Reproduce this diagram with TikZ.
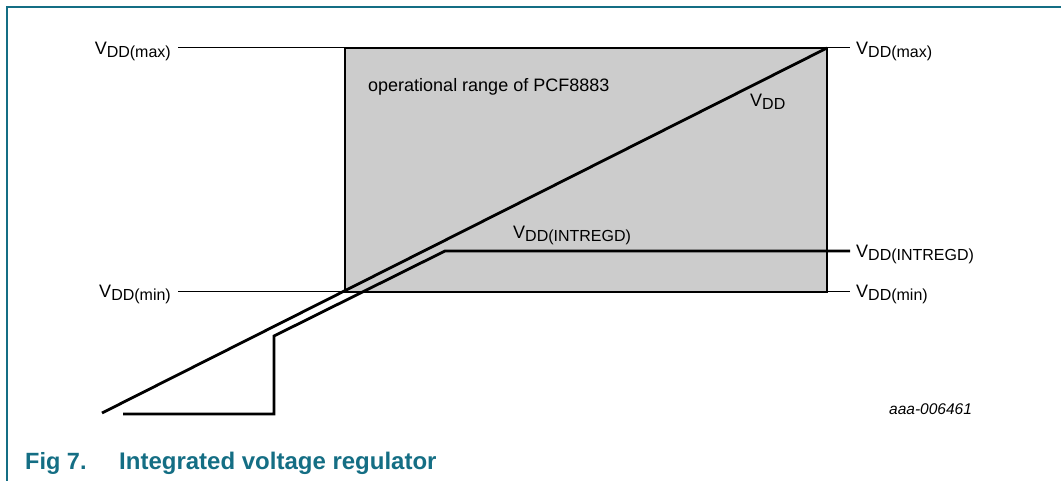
\documentclass[tikz,border=0pt]{standalone}
\usepackage{fontspec}
\setmainfont{Liberation Sans}
\usetikzlibrary{positioning}
\usetikzlibrary{calc}

\definecolor{nxpteal}{RGB}{20,110,132}
\newcommand{\vddlbl}[1]{V\raisebox{-0.3ex}{\fontsize{16}{16}\selectfont DD#1}}

\begin{document}
\begin{tikzpicture}[x=1pt,y=-1pt,
	lbl/.style={inner sep=0pt, font=\fontsize{18}{18}\selectfont},
	thinline/.style={line width=1pt},
	heavy/.style={line width=2.8pt}]
	\useasboundingbox (0,0) rectangle (1061,481);
	\draw[nxpteal, line width=1.3pt] (7,481) -- (7,7) -- (1061,7);
	% operating window
	\coordinate (tl) at (345,48);
	\coordinate (bl) at (345,292);
	\coordinate (tr) at (827,48);
	\coordinate (br) at (827,292);
	\draw[heavy, fill=black!20] (tl) rectangle (br);
	% level labels
	\node[lbl, anchor=base east] (maxL) at (171,55) {\vddlbl{(max)}};
	\node[lbl, anchor=base east] (minL) at (171,298) {\vddlbl{(min)}};
	\node[lbl, anchor=base west] (maxR) at (856,55) {\vddlbl{(max)}};
	\node[lbl, anchor=base west] (intR) at (856,258) {\vddlbl{(INTREGD)}};
	\node[lbl, anchor=base west] (minR) at (856,298) {\vddlbl{(min)}};
	\draw[thinline] (maxL.east |- tl) ++(7,0) -- (tl);
	\draw[thinline] (minL.east |- bl) ++(7,0) -- (bl);
	\draw[thinline] (tr) -- ($(maxR.west |- tr)+(-6,0)$);
	\draw[thinline] (br) -- ($(minR.west |- br)+(-6,0)$);
	% supply ramp
	\coordinate (vddstart) at (102,413);
	\draw[heavy] (vddstart) -- (tr);
	% regulator output
	\coordinate (regstart) at (123,414);
	\coordinate (regstep) at (274,414);
	\coordinate (regjump) at (274,336);
	\coordinate (regknee) at (445,251);
	\draw[heavy] (regstart) -- (regstep) -- (regjump) -- (regknee) -- ($(intR.west |- regknee)+(-6,0)$);
	% texts
	\node[lbl, anchor=base west] (oprange) at (368,92) {operational range of PCF8883};
	\node[lbl, anchor=base west] (vddtxt) at (750,107) {\vddlbl{}};
	\node[lbl, anchor=base west] (inttxt) at (513,239) {\vddlbl{(INTREGD)}};
	\node[inner sep=0pt, anchor=base west, font=\fontsize{15.5}{15.5}\selectfont\itshape] (figid) at (889,414) {aaa-006461};
	\node[inner sep=0pt, anchor=base west, text=nxpteal, font=\fontsize{23.5}{23.5}\selectfont\bfseries] (fignum) at (25,469) {Fig 7.};
	\node[inner sep=0pt, anchor=base west, text=nxpteal, font=\fontsize{24}{24}\selectfont\bfseries] (figtitle) at (119,469) {Integrated voltage regulator};
\end{tikzpicture}
\end{document}
